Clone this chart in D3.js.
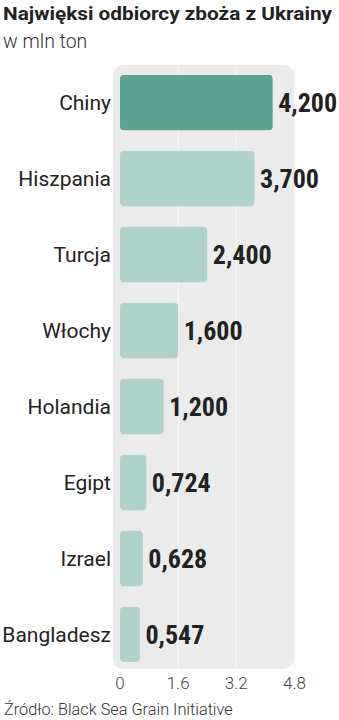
<!DOCTYPE html>
<html>
<head>
<meta charset="utf-8">
<script src="https://cdn.jsdelivr.net/npm/d3@7"></script>
<style>
  body { margin: 0; background: #fff; }
  svg { display: block; }
</style>
</head>
<body>
<svg width="339" height="720"></svg>
<script>
var countries = ["Chiny", "Hiszpania", "Turcja", "Włochy", "Holandia", "Egipt", "Izrael", "Bangladesz"];
var values = [4.2, 3.7, 2.4, 1.6, 1.2, 0.724, 0.628, 0.547];
var valueLabels = ["4,200", "3,700", "2,400", "1,600", "1,200", "0,724", "0,628", "0,547"];
var ticks = [0, 1.6, 3.2, 4.8];
var tickLabels = ["0", "1.6", "3.2", "4.8"];

var svg = d3.select('svg');

var scaleX = d3.scaleLinear().domain([0, 4.8]).range([120, 294.5]);
var scaleY = d3.scaleBand().domain(countries).range([65, 672]).paddingInner(0.27).paddingOuter(0.13);

// panel
svg.append('rect')
  .attr('x', 113)
  .attr('y', 65)
  .attr('width', 181)
  .attr('height', 604)
  .attr('rx', 10)
  .attr('fill', '#ebebeb');

// grid lines
svg.selectAll('.grid')
  .data(ticks.slice(1))
  .enter()
  .append('line')
  .attr('x1', function(d){ return scaleX(d); })
  .attr('x2', function(d){ return scaleX(d); })
  .attr('y1', 65)
  .attr('y2', 669)
  .attr('stroke', '#f6f6f6')
  .attr('stroke-width', 1.2);

svg.selectAll('.bar')
  .data(values)
  .enter()
  .append('rect')
  .attr('x', scaleX(0))
  .attr('y', function(d, i){ return scaleY(countries[i]); })
  .attr('width', function(d){ return scaleX(d) - scaleX(0); })
  .attr('height', scaleY.bandwidth())
  .attr('rx', 4)
  .attr('fill', function(d, i){ return i == 0 ? '#5ca391' : '#afd3ca'; });

svg.selectAll('.cat')
  .data(countries)
  .enter()
  .append('text')
  .attr('x', 111)
  .attr('y', function(d){ return scaleY(d) + scaleY.bandwidth() / 2; })
  .attr('dy', '0.35em')
  .attr('text-anchor', 'end')
  .attr('font-family', 'Roboto, sans-serif')
  .attr('font-size', 21)
  .attr('fill', '#222')
  .text(function(d){ return d; });

svg.selectAll('.val')
  .data(values)
  .enter()
  .append('text')
  .attr('x', function(d){ return scaleX(d) + 5.5; })
  .attr('y', function(d, i){ return scaleY(countries[i]) + scaleY.bandwidth() / 2; })
  .attr('dy', '0.36em')
  .attr('font-family', '"Liberation Sans Narrow", "Roboto Condensed", sans-serif')
  .attr('font-weight', 'bold')
  .attr('font-size', 26)
  .attr('fill', '#222')
  .text(function(d, i){ return valueLabels[i]; });

svg.selectAll('.tick')
  .data(ticks)
  .enter()
  .append('text')
  .attr('x', function(d){ return scaleX(d); })
  .attr('y', 689)
  .attr('text-anchor', 'middle')
  .attr('font-family', 'Roboto, sans-serif')
  .attr('font-weight', 300)
  .attr('font-size', 17)
  .attr('fill', '#444')
  .text(function(d, i){ return tickLabels[i]; });

svg.append('text')
  .attr('x', 3)
  .attr('y', 20)
  .attr('font-family', 'Roboto, sans-serif')
  .attr('font-weight', 'bold')
  .attr('font-size', 18)
  .attr('textLength', 329)
  .attr('lengthAdjust', 'spacingAndGlyphs')
  .attr('fill', '#222')
  .text('Najwięksi odbiorcy zboża z Ukrainy');

svg.append('text')
  .attr('x', 3)
  .attr('y', 48)
  .attr('font-family', 'Roboto, sans-serif')
  .attr('font-weight', 300)
  .attr('font-size', 19.5)
  .attr('fill', '#333')
  .text('w mln ton');

svg.append('text')
  .attr('x', 4)
  .attr('y', 715)
  .attr('font-family', 'Roboto, sans-serif')
  .attr('font-weight', 300)
  .attr('font-size', 16.3)
  .attr('fill', '#333')
  .text('Źródło: Black Sea Grain Initiative');
</script>
</body>
</html>
